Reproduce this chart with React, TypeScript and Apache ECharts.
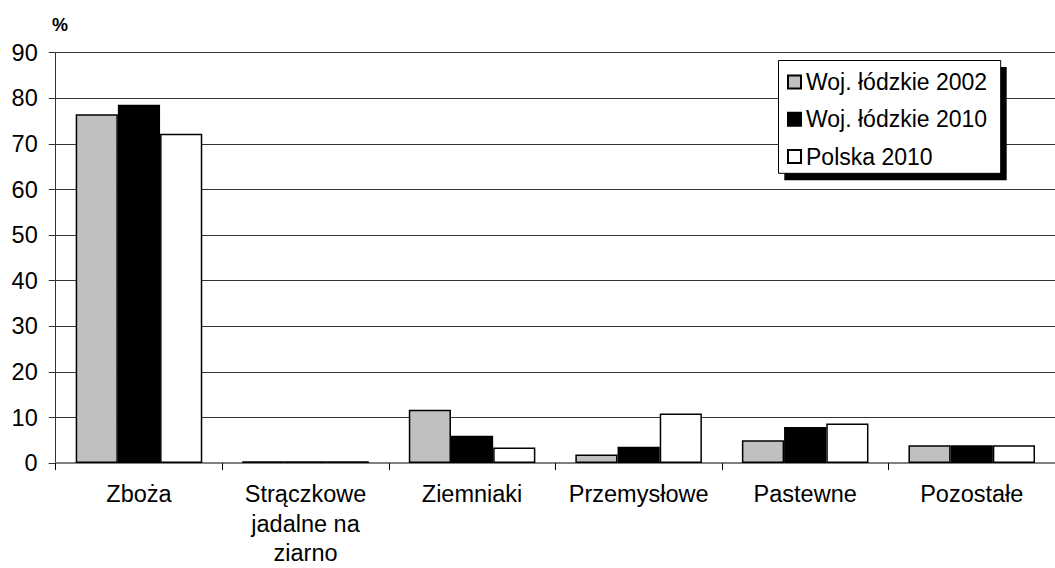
import React, { useEffect, useRef } from "react";
import * as echarts from "echarts";

const categories = ["Zboża", "Strączkowe\njadalne na\nziarno", "Ziemniaki", "Przemysłowe", "Pastewne", "Pozostałe"];
const seriesNames = ["Woj. łódzkie 2002", "Woj. łódzkie 2010", "Polska 2010"];
const lodzkie2002 = [76.5, 0.4, 11.7, 1.9, 5.0, 3.9];
const lodzkie2010 = [78.6, 0.4, 6.0, 3.6, 7.9, 3.9];
const polska2010 = [72.2, 0.4, 3.4, 10.9, 8.7, 3.9];
const seriesColors = ["#c0c0c0", "#000000", "#ffffff"];
const FONT = "'Liberation Sans', Arial, sans-serif";

export default function App() {
  const ref = useRef<HTMLDivElement>(null);
  useEffect(() => {
    document.body.style.margin = "0";
    const chart = echarts.init(ref.current!, null, { renderer: "svg" });
    const data = [lodzkie2002, lodzkie2010, polska2010];
    chart.setOption({
      animation: false,
      backgroundColor: "#ffffff",
      textStyle: { fontFamily: FONT },
      grid: { left: 55.7, top: 52.7, bottom: 103.7, right: -14.7, containLabel: false },
      graphic: [
        { type: "rect", shape: { x: 784.3, y: 67, width: 222.4, height: 113.3 }, style: { fill: "#000" }, z: 10 },
        { type: "rect", shape: { x: 778.5, y: 60.5, width: 222.2, height: 112.8 }, style: { fill: "#fff", stroke: "#000", lineWidth: 1 }, z: 11 },
        {
          type: "text",
          x: 52,
          y: 16,
          style: { text: "%", font: `bold 18px ${FONT}`, fill: "#000", verticalAlign: "top" },
          z: 12,
        },
      ],
      legend: {
        orient: "vertical",
        left: 787,
        top: 70.5,
        padding: 0,
        itemGap: 14.3,
        itemWidth: 13,
        itemHeight: 13,
        icon: "rect",
        z: 20,
        textStyle: { fontSize: 23, lineHeight: 23, color: "#000", fontFamily: FONT },
        data: seriesNames,
      },
      xAxis: {
        type: "category",
        data: categories,
        axisLine: { lineStyle: { color: "#808080", width: 2 } },
        axisTick: { show: true, length: 7, lineStyle: { color: "#000" } },
        axisLabel: { fontSize: 23.5, color: "#000", margin: 16.4, lineHeight: 29.5, fontFamily: FONT, interval: 0 },
      },
      yAxis: {
        type: "value",
        min: 0,
        max: 90,
        interval: 10,
        axisLine: { show: true, lineStyle: { color: "#333", width: 1 } },
        axisTick: { show: true, length: 7, lineStyle: { color: "#333" } },
        axisLabel: { fontSize: 23.5, color: "#000", margin: 18, fontFamily: FONT },
        splitLine: { lineStyle: { color: "#333", width: 1 } },
      },
      series: seriesNames.map((name, i) => ({
        name,
        type: "bar",
        data: data[i],
        barGap: "0%",
        barCategoryGap: "24%",
        itemStyle: { color: seriesColors[i], borderColor: "#000", borderWidth: 1.5 },
        emphasis: { disabled: true },
      })),
    });
    return () => chart.dispose();
  }, []);
  return <div ref={ref} style={{ width: 1055, height: 568, position: "absolute", left: 0, top: 0 }} />;
}
